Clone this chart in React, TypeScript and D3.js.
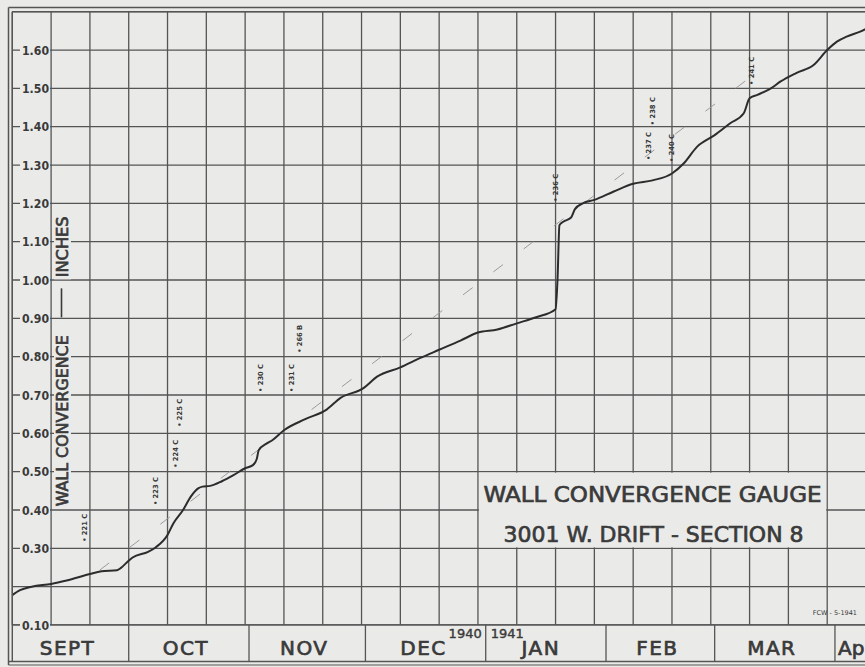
import React from "react";
import * as d3 from "d3";

// ---------- data ----------
const readingDates = [
  "1940-09-01", "1940-09-03", "1940-09-06", "1940-09-11", "1940-09-15", "1940-09-21",
  "1940-09-24", "1940-09-28", "1940-09-29", "1940-09-30T12:00", "1940-10-02", "1940-10-06",
  "1940-10-08", "1940-10-11", "1940-10-12T12:00", "1940-10-15", "1940-10-17", "1940-10-19",
  "1940-10-20", "1940-10-22", "1940-10-25", "1940-10-28", "1940-10-31", "1940-11-02",
  "1940-11-03", "1940-11-03T12:00", "1940-11-05T12:00", "1940-11-07", "1940-11-10",
  "1940-11-15T12:00", "1940-11-21", "1940-11-24T12:00", "1940-11-30T12:00", "1940-12-04",
  "1940-12-10", "1940-12-15", "1940-12-20", "1940-12-25T12:00", "1940-12-30", "1941-01-04",
  "1941-01-09", "1941-01-14", "1941-01-19", "1941-01-19T12:00", "1941-01-20", "1941-01-21",
  "1941-01-23", "1941-01-24", "1941-01-26", "1941-01-29", "1941-02-03", "1941-02-08",
  "1941-02-13", "1941-02-18", "1941-02-21", "1941-02-24T12:00", "1941-03-01", "1941-03-05",
  "1941-03-08T12:00", "1941-03-10", "1941-03-12", "1941-03-15T12:00", "1941-03-18",
  "1941-03-22", "1941-03-26T12:00", "1941-03-30", "1941-04-01T12:00", "1941-04-04",
  "1941-04-07T12:00", "1941-04-09",
];
const readingValues = [
  0.178, 0.191, 0.2, 0.207, 0.216, 0.233,
  0.24, 0.243, 0.249, 0.263, 0.276, 0.291,
  0.303, 0.335, 0.365, 0.4, 0.435, 0.457,
  0.461, 0.463, 0.475, 0.491, 0.509, 0.517,
  0.533, 0.556, 0.573, 0.582, 0.608,
  0.637, 0.662, 0.692, 0.718, 0.748,
  0.772, 0.796, 0.818, 0.842, 0.863, 0.871,
  0.887, 0.903, 0.924, 1.0, 1.143, 1.152,
  1.163, 1.185, 1.2, 1.209, 1.231, 1.251,
  1.26, 1.278, 1.304, 1.348, 1.378, 1.409,
  1.435, 1.474, 1.483, 1.5, 1.518,
  1.54, 1.561, 1.6, 1.622, 1.635,
  1.648, 1.655,
];

const trendDates = ["1940-09-23T12:00", "1941-03-08T21:00"];
const trendValues = [0.243, 1.519];

const annotationLabels = ["221 C", "223 C", "224 C", "225 C", "230 C", "231 C", "266 B", "236 C", "237 C", "238 C", "240 C", "241 C"];
const annotationDates = ["1940-09-19T12:00", "1940-10-08", "1940-10-13", "1940-10-14", "1940-11-04", "1940-11-12", "1940-11-14", "1941-01-19", "1941-02-12", "1941-02-13", "1941-02-18", "1941-03-10T12:00"];
const annotationValues = [0.317, 0.413, 0.51, 0.617, 0.708, 0.708, 0.81, 1.204, 1.313, 1.404, 1.308, 1.509];

const yTickValues = [0.1, 0.3, 0.4, 0.5, 0.6, 0.7, 0.8, 0.9, 1.0, 1.1, 1.2, 1.3, 1.4, 1.5, 1.6];
const monthLabels = ["SEPT", "OCT", "NOV", "DEC", "JAN", "FEB", "MAR", "Ap"];
const yearLabels = ["1940", "1941"];
const titleLines = ["WALL CONVERGENCE GAUGE", "3001 W. DRIFT - SECTION 8"];
const yAxisWords = ["WALL CONVERGENCE", "INCHES"];
const creditText = "FCW - 5-1941";

const startDate = "1940-09-01";
const endDate = "1941-04-09";

// ---------- helpers ----------
const parseDate = (s: string) => new Date(s.length === 10 ? s + "T00:00:00Z" : s + ":00Z");

const W = 865;
const H = 667;
const PAPER = "#eaeae9";
const INK = "#3a3a3a";
const GRID = "#555";
const FONT = "'DejaVu Sans', 'Liberation Sans', sans-serif";

export default function App() {
  const start = parseDate(startDate);
  const end = parseDate(endDate);
  const x = d3.scaleUtc().domain([start, end]).range([12.3, 866]);
  const y = d3.scaleLinear().domain([0.1, 1.7]).range([625, 11.7]);

  const gridDates = d3.range(0, 221, 10).map((d) => d3.utcDay.offset(start, d));
  const gridValues = d3.range(1, 18).map((i) => i / 10);

  const points = readingDates.map((d, i) => [x(parseDate(d)), y(readingValues[i])] as [number, number]);
  const line = d3.line().curve(d3.curveMonotoneX)(points) || "";

  const trend = d3.line()(trendDates.map((d, i) => [x(parseDate(d)), y(trendValues[i])] as [number, number])) || "";

  const monthStarts = d3.utcMonth.range(start, d3.utcDay.offset(end, 1));
  const monthEdges = monthStarts.map((m) => x(m));
  const bandTop = y(0.1);
  const bandBottom = 661.5;

  const fmt = d3.format(".2f");

  const boxX0 = x(gridDates[12]);
  const boxX1 = x(gridDates[21]);
  const boxY0 = y(0.5);
  const boxY1 = y(0.3);

  const jan1 = x(monthStarts[4]);
  const heavy = { stroke: INK, strokeWidth: 0.7 } as const;

  return (
    <svg width={W} height={H} style={{ position: "absolute", left: 0, top: 0, background: PAPER }} fontFamily={FONT}>
      <rect x={0} y={0} width={W} height={H} fill={PAPER} />

      {/* grid */}
      {gridDates.map((d, i) => (
        <line key={"v" + i} x1={x(d)} x2={x(d)} y1={y(1.7)} y2={y(0.1)} stroke={GRID} strokeWidth={1.3} />
      ))}
      {gridValues.map((v, i) => (
        <line key={"h" + i} x1={x(start)} x2={W} y1={y(v)} y2={y(v)} stroke={GRID} strokeWidth={1.3} />
      ))}

      {/* title box */}
      <rect x={boxX0 + 1} y={boxY0 + 1} width={boxX1 - boxX0 - 2} height={boxY1 - boxY0 - 2} fill={PAPER} />
      <text x={(boxX0 + boxX1) / 2} y={y(0.5) + 30} textAnchor="middle" fontSize={22} fill={INK} {...heavy} textLength={338} lengthAdjust="spacingAndGlyphs">{titleLines[0]}</text>
      <text x={(boxX0 + boxX1) / 2 + 1} y={y(0.4) + 32} textAnchor="middle" fontSize={22} fill={INK} {...heavy} textLength={300} lengthAdjust="spacingAndGlyphs">{titleLines[1]}</text>

      {/* y axis title */}
      <g transform={`translate(68, ${y(0.3) - 42}) rotate(-90)`}>
        <rect x={-2} y={-14} width={175} height={17} fill={PAPER} />
        <text x={0} y={0} fontSize={16} fill={INK} {...heavy} textLength={171} lengthAdjust="spacingAndGlyphs">{yAxisWords[0]}</text>
        <line x1={189} x2={218} y1={-6.5} y2={-6.5} stroke={INK} strokeWidth={1.6} />
        <rect x={227} y={-14} width={64} height={17} fill={PAPER} />
        <text x={229} y={0} fontSize={16} fill={INK} {...heavy} textLength={61} lengthAdjust="spacingAndGlyphs">{yAxisWords[1]}</text>
      </g>

      {/* trend line (faint pencil) */}
      <path d={trend} fill="none" stroke="#9b9b9b" strokeWidth={1} strokeDasharray="12 26" />

      {/* curve */}
      <path d={line} fill="none" stroke="#2c2c2c" strokeWidth={2} strokeLinejoin="round" />

      {/* annotations */}
      {annotationLabels.map((t, i) => {
        const ax = x(parseDate(annotationDates[i])) + 2.5;
        const ay = y(annotationValues[i]);
        return (
          <text key={"a" + i} transform={`translate(${ax}, ${ay}) rotate(-90)`} fontSize={7} fontWeight="bold" fill={INK} textLength={28} lengthAdjust="spacingAndGlyphs">{"• " + t}</text>
        );
      })}

      {/* credit */}
      <text x={857} y={615} textAnchor="end" fontSize={6.5} fill={INK}>{creditText}</text>

      {/* month band */}
      <rect x={x(start)} y={bandTop} width={W - x(start)} height={bandBottom - bandTop} fill={PAPER} />
      <line x1={x(start)} x2={W} y1={bandTop} y2={bandTop} stroke={GRID} strokeWidth={1.4} />
      {monthEdges.slice(1).map((mx, i) => (
        <line key={"m" + i} x1={mx} x2={mx} y1={bandTop} y2={bandBottom} stroke={GRID} strokeWidth={1.3} />
      ))}
      {monthLabels.map((lab, i) => {
        const m0 = monthEdges[i];
        const m1 = i + 1 < monthEdges.length ? monthEdges[i + 1] : x(d3.utcMonth.offset(monthStarts[i], 1));
        if (lab === "Ap") {
          return <text key={"ml" + i} x={m0 + 3} y={655} fontSize={20} fill={INK} {...heavy}>{lab}</text>;
        }
        let cx = (m0 + m1) / 2 - 3;
        if (lab === "DEC") cx = (m0 + m1) / 2 - 2;
        if (lab === "JAN") cx = (m0 + m1) / 2 - 5;
        return <text key={"ml" + i} x={cx} y={655} textAnchor="middle" fontSize={20} fill={INK} {...heavy} letterSpacing={1.5}>{lab}</text>;
      })}
      <text x={jan1 - 4} y={638} textAnchor="end" fontSize={13} fill={INK} stroke={INK} strokeWidth={0.4}>{yearLabels[0]}</text>
      <text x={jan1 + 5} y={638} fontSize={13} fill={INK} stroke={INK} strokeWidth={0.4}>{yearLabels[1]}</text>

      {/* y tick labels (on top of band edge) */}
      {yTickValues.map((v, i) => (
        <g key={"t" + i}>
          <rect x={20} y={y(v) - 6} width={30} height={12} fill={PAPER} />
          <text x={49} y={y(v) + 4.5} textAnchor="end" fontSize={12.5} fontWeight="bold" fill={INK} textLength={27} lengthAdjust="spacingAndGlyphs">{fmt(v)}</text>
        </g>
      ))}

      {/* border */}
      <line x1={8.5} x2={8.5} y1={7.5} y2={665} stroke={GRID} strokeWidth={1.5} />
      <line x1={8.5} x2={W} y1={7.5} y2={7.5} stroke={GRID} strokeWidth={1.5} />
      <line x1={x(start)} x2={x(start)} y1={y(1.7)} y2={bandBottom} stroke={GRID} strokeWidth={1.4} />
      <line x1={x(start)} x2={W} y1={y(1.7)} y2={y(1.7)} stroke={GRID} strokeWidth={1.4} />
      <line x1={8.5} x2={W} y1={bandBottom} y2={bandBottom} stroke={GRID} strokeWidth={1.6} />
      <line x1={8.5} x2={W} y1={665} y2={665} stroke={GRID} strokeWidth={1.2} />
    </svg>
  );
}
